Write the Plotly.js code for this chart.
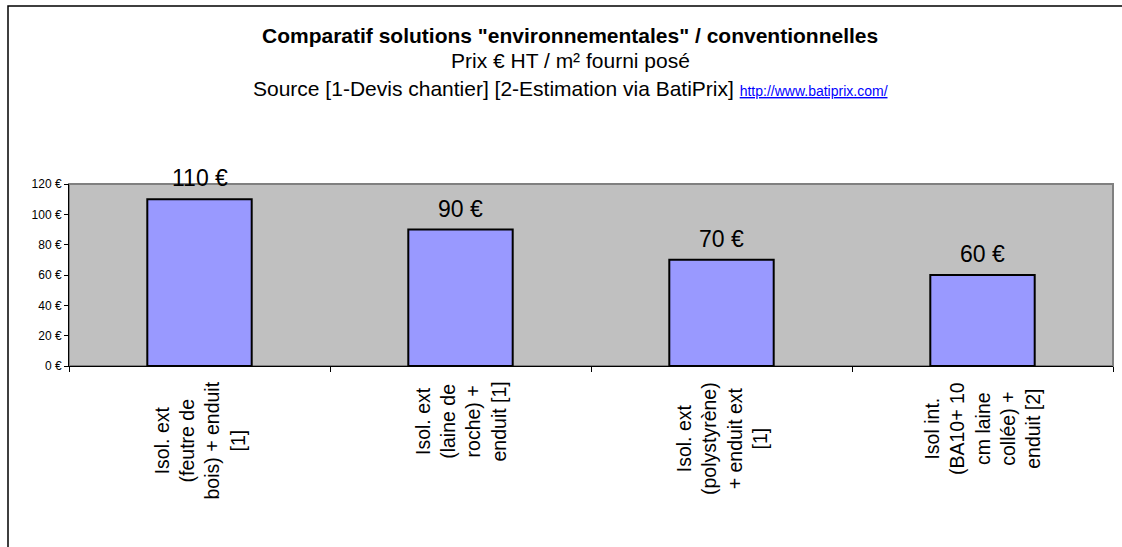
<!DOCTYPE html>
<html>
<head>
<meta charset="utf-8">
<script src="https://cdn.plot.ly/plotly-3.0.1.min.js"></script>
<style>
  html, body { margin: 0; padding: 0; background: #ffffff; }
  #chart { width: 1122px; height: 547px; }
</style>
</head>
<body>
<div id="chart"></div>
<script>
// Insulation solutions compared (price € excl. VAT per m², supplied and fitted)
const categories = [
  "Isol. ext<br>(feutre de<br>bois) + enduit<br>[1]",
  "Isol. ext<br>(laine de<br>roche) +<br>enduit [1]",
  "Isol. ext<br>(polystyrène)<br>+ enduit ext<br>[1]",
  "Isol int.<br>(BA10+ 10<br>cm laine<br>collée) +<br>enduit [2]"
];
const prices = [110, 90, 70, 60];
const yTickValues = [0, 20, 40, 60, 80, 100, 120];
const titleLines = [
  "<b>Comparatif solutions \"environnementales\" / conventionnelles</b>",
  "Prix € HT / m² fourni posé",
  "Source [1-Devis chantier] [2-Estimation via BatiPrix] "
];
const sourceLink = "http://www.batiprix.com/";

// Canvas geometry (px)
const W = 1122, H = 547;
const plotL = 69, plotR = 1113, plotT = 184, plotB = 366;
const plotW = plotR - plotL, plotH = plotB - plotT;
const px2x = px => (px - plotL) / plotW;
const px2y = py => (plotB - py) / plotH;

const FONT = "Arial, 'Liberation Sans', sans-serif";

const trace = {
  type: "bar",
  x: categories,
  y: prices,
  marker: { color: "#9999FF", line: { color: "#000000", width: 2 } },
  hoverinfo: "none"
};

const annotations = [];

// Title block
const titleY = [35, 61, 88];
const titleSize = [21, 21, 21];
titleLines.forEach((t, i) => {
  let txt = t;
  if (i === 2) {
    txt += '<a href="' + sourceLink + '"><span style="font-size:14px;color:#0000FF;text-decoration:underline">' + sourceLink + '</span></a>';
  }
  annotations.push({
    xref: "paper", yref: "paper",
    x: px2x(570), y: px2y(titleY[i]),
    xanchor: "center", yanchor: "middle",
    text: txt, showarrow: false,
    font: { family: FONT, size: titleSize[i], color: "#000000" }
  });
});

// Value labels above bars
categories.forEach((c, i) => {
  annotations.push({
    xref: "x", yref: "y",
    x: c, y: prices[i],
    xanchor: "center", yanchor: "bottom", yshift: 6,
    text: prices[i] + " €", showarrow: false,
    font: { family: FONT, size: 23, color: "#000000" }
  });
});

// Rotated category labels under the axis
categories.forEach(c => {
  annotations.push({
    xref: "x", yref: "paper",
    x: c, y: px2y(380),
    xanchor: "center", yanchor: "top",
    textangle: -90, align: "center",
    text: c, showarrow: false,
    font: { family: FONT, size: 19.5, color: "#000000" }
  });
});

const layout = {
  width: W, height: H,
  margin: { l: plotL, r: W - plotR, t: plotT, b: H - plotB, pad: 0 },
  paper_bgcolor: "#FFFFFF",
  plot_bgcolor: "#C0C0C0",
  showlegend: false,
  bargap: 0.6,
  xaxis: {
    type: "category",
    showticklabels: false,
    tickson: "boundaries",
    ticks: "outside", ticklen: 5, tickcolor: "#000000", tickwidth: 1,
    showline: true, linecolor: "#000000", linewidth: 1,
    showgrid: false, zeroline: false, fixedrange: true
  },
  yaxis: {
    range: [0, 120],
    tickvals: yTickValues,
    ticktext: yTickValues.map(v => v + " €"),
    ticks: "outside", ticklen: 4, tickcolor: "#000000", tickwidth: 1,
    tickfont: { family: FONT, size: 12, color: "#000000" },
    showline: true, linecolor: "#000000", linewidth: 1,
    showgrid: false, zeroline: false, fixedrange: true
  },
  shapes: [
    // plot area border
    { type: "rect", xref: "paper", yref: "paper", x0: 0, x1: 1, y0: 0, y1: 1,
      line: { color: "#808080", width: 2 }, layer: "below" },
    // outer chart frame
    { type: "rect", xref: "paper", yref: "paper",
      x0: px2x(8), x1: px2x(1140), y0: px2y(6), y1: px2y(570),
      line: { color: "#000000", width: 1.5 } }
  ],
  annotations: annotations
};

Plotly.newPlot("chart", [trace], layout, { staticPlot: true, displayModeBar: false });
</script>
</body>
</html>
